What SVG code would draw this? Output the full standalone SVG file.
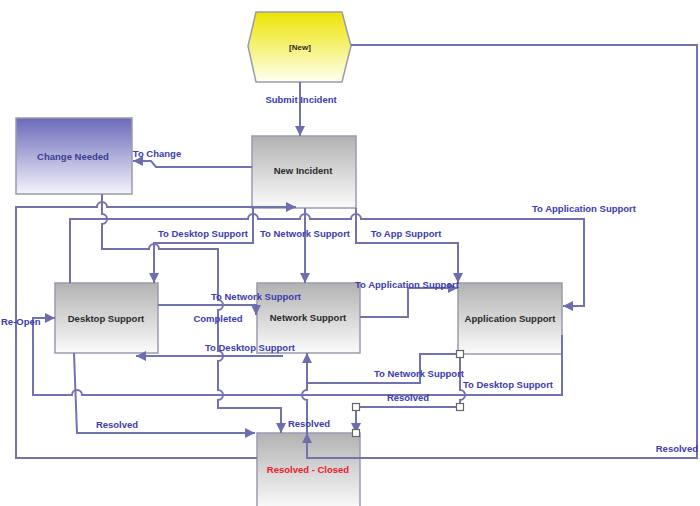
<svg xmlns="http://www.w3.org/2000/svg" width="700" height="506" viewBox="0 0 700 506">
<defs>
<linearGradient id="gGray" x1="0" y1="0" x2="0" y2="1"><stop offset="0" stop-color="#b2b2b2"/><stop offset="1" stop-color="#fbfbfb"/></linearGradient>
<linearGradient id="gPurple" x1="0" y1="0" x2="0" y2="1"><stop offset="0" stop-color="#6a6aba"/><stop offset="1" stop-color="#f4f4fc"/></linearGradient>
<linearGradient id="gYellow" x1="0" y1="0" x2="0" y2="1"><stop offset="0" stop-color="#ede400"/><stop offset="1" stop-color="#fffff2"/></linearGradient>
<marker id="arr" viewBox="0 0 10 10" refX="10" refY="5" markerWidth="11" markerHeight="10" markerUnits="userSpaceOnUse" orient="auto"><path d="M0,0 L10,5 L0,10 z" fill="#6e6eae"/></marker>
<style>
.node{stroke:#9a9ab0;stroke-width:1.5}
.nt{font-family:"Liberation Sans",Arial,sans-serif;font-size:9.5px;font-weight:bold;fill:#2a2a2a;text-anchor:middle}
.c{fill:none;stroke:#7272b0;stroke-width:2}
.a{marker-end:url(#arr)}
.lb{font-family:"Liberation Sans",Arial,sans-serif;font-size:9.5px;font-weight:bold;fill:#3c3cac;text-anchor:middle}
.h{fill:#fff;stroke:#666;stroke-width:1.2}
</style>
</defs>
<rect width="700" height="506" fill="#fff"/>

<g id="n-new"><polygon class="node" points="256,12 342,12 351,46 342,82 256,82 248,46" fill="url(#gYellow)"/><text class="nt" x="300" y="50" style="font-size:8px">[New]</text></g>
<g id="n-incident"><rect class="node" x="252" y="136" width="104" height="72" fill="url(#gGray)"/><text class="nt" x="303" y="174">New Incident</text></g>
<g id="n-change"><rect class="node" x="16" y="118" width="116" height="76" fill="url(#gPurple)"/><text class="nt" x="73" y="160" style="fill:#3c3c96">Change Needed</text></g>
<g id="n-desktop"><rect class="node" x="55" y="283" width="103" height="70" fill="url(#gGray)"/><text class="nt" x="106" y="322">Desktop Support</text></g>
<g id="n-network"><rect class="node" x="257" y="283" width="103" height="70" fill="url(#gGray)"/><text class="nt" x="308" y="321">Network Support</text></g>
<g id="n-app"><rect class="node" x="458" y="283" width="104" height="71" fill="url(#gGray)"/><text class="nt" x="510" y="322">Application Support</text></g>
<g id="n-closed"><rect class="node" x="257" y="433" width="103" height="76" fill="url(#gGray)"/><text class="nt" x="308" y="473" style="fill:#e8202a">Resolved - Closed</text></g>

<g id="connectors">
<path class="c a" d="M300,82 V136"/>
<path class="c a" d="M252,167 H156 L151,161 H133"/>
<path class="c a" d="M253,208 V243 H154 V283"/>
<path class="c a" d="M305,208 V283"/>
<path class="c a" d="M356,208 V243 H458 V283"/>
<path class="c a" d="M70,283 V219 H248 a5,5 0 0 1 10,0 H300 a5,5 0 0 1 10,0 H351 a5,5 0 0 1 10,0 H584 V306 H563"/>
<path class="c a" d="M102,194 V214 a5,5 0 0 1 0,10 V249 H149 a5,5 0 0 1 10,0 H218 V300 a5,5 0 0 1 0,10 V351 a5,5 0 0 1 0,10 V390 a5,5 0 0 1 0,10 V408 H281 V433"/>
<path class="c a" d="M257,458 H16 V207 H97 a5,5 0 0 1 10,0 H296"/>
<path class="c a" d="M158,305 H256 V315"/>
<path class="c a" d="M283,356 H136"/>
<path class="c a" d="M74,353 L77,433 H255"/>
<path class="c a" d="M562,335 V395 H82 a5,5 0 0 0 -10,0 H33 V318 H55"/>
<path class="c a" d="M460,354 H420 V383 H307 V353"/>
<path class="c a" d="M460,354 V390 a5,5 0 0 1 0,10 V407 H356 V433"/>
<path class="c a" d="M351,45 H697 V458 H307 V433"/>
<path class="c" d="M307,433 V400 a5,5 0 0 1 0,-10 V383"/>
<path class="c a" d="M360,317 H408 V288 H458"/>
<rect class="h" x="456.5" y="350.5" width="7" height="7"/>
<rect class="h" x="456.5" y="403.5" width="7" height="7"/>
<rect class="h" x="352.5" y="403.5" width="7" height="7"/>
<rect class="h" x="352.5" y="429.5" width="7" height="7"/>
</g>

<g id="labels">
<text class="lb" x="301" y="103">Submit Incident</text>
<text class="lb" x="157" y="157">To Change</text>
<text class="lb" x="203" y="237">To Desktop Support</text>
<text class="lb" x="305" y="237">To Network Support</text>
<text class="lb" x="406" y="237">To App Support</text>
<text class="lb" x="584" y="212">To Application Support</text>
<text class="lb" x="256" y="300">To Network Support</text>
<text class="lb" x="407" y="288">To Application Support</text>
<text class="lb" x="218" y="322">Completed</text>
<text class="lb" x="250" y="351">To Desktop Support</text>
<text class="lb" x="1" y="325" style="text-anchor:start">Re-Open</text>
<text class="lb" x="419" y="377">To Network Support</text>
<text class="lb" x="508" y="388">To Desktop Support</text>
<text class="lb" x="408" y="401">Resolved</text>
<text class="lb" x="117" y="428">Resolved</text>
<text class="lb" x="309" y="427">Resolved</text>
<text class="lb" x="698" y="452" style="text-anchor:end">Resolved</text>
</g>
</svg>
